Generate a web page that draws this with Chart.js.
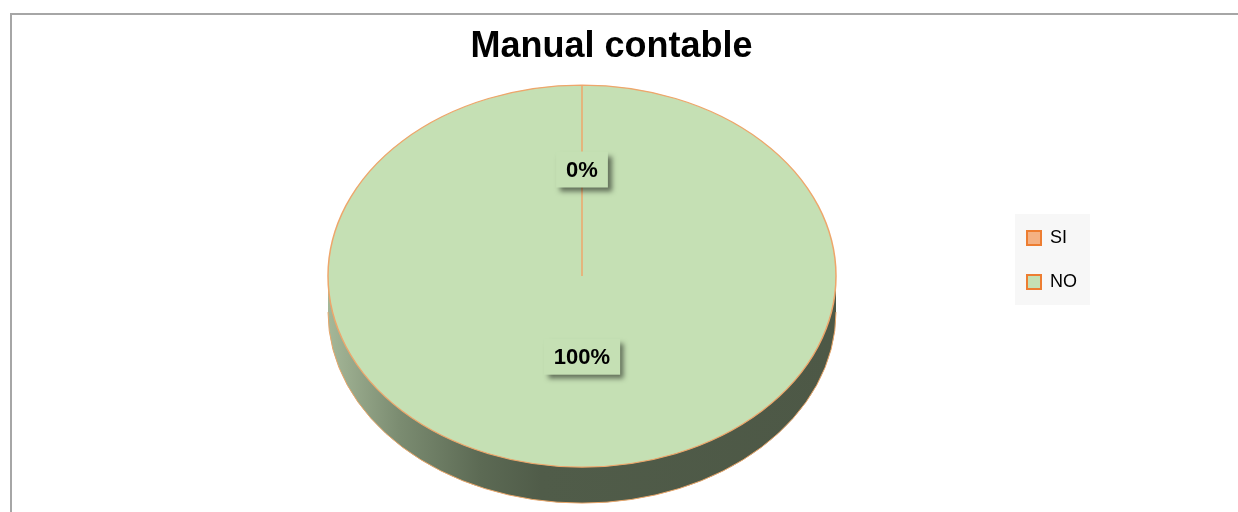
<!DOCTYPE html>
<html lang="es">
<head>
<meta charset="utf-8">
<title>Manual contable</title>
<script src="https://cdn.jsdelivr.net/npm/chart.js"></script>
<style>
  html, body { margin: 0; padding: 0; background: #fff; }
  #wrap { width: 1238px; height: 512px; position: relative; }
</style>
</head>
<body>
<div id="wrap"><canvas id="pieChart"></canvas></div>
<script>
const categories = ['SI', 'NO'];
const answers = [0, 100];
const fillColors = ['#F4B183', '#C5E0B4'];

const FONT = "'Liberation Sans', Arial, sans-serif";

// tilt of the disc: vertical squash, wall height, how far the top face sits below the centre
const tilt = { squash: 0.752, depth: 36, drop: 16 };

// outer frame + grey panel behind the legend; title centred a bit left of the full width
const frame = {
  id: 'frame',
  afterLayout(chart) {
    const t = chart.titleBlock;
    t.right -= 27;
    t.width = t.right - t.left;
  },
  beforeDraw(chart) {
    const ctx = chart.ctx;
    ctx.save();
    ctx.strokeStyle = '#a6a6a6';
    ctx.lineWidth = 2;
    ctx.strokeRect(11, 14, chart.width + 20, chart.height + 20);
    const boxes = chart.legend.legendHitBoxes;
    if (boxes && boxes.length) {
      const left = Math.min(...boxes.map(b => b.left)) - 12;
      const top = Math.min(...boxes.map(b => b.top)) - 15;
      const right = Math.max(...boxes.map(b => b.left + b.width)) + 13;
      const bottom = Math.max(...boxes.map(b => b.top + b.height)) + 14;
      ctx.fillStyle = '#f7f7f7';
      ctx.fillRect(left, top, right - left, bottom - top);
    }
    ctx.restore();
  }
};

// squashes the pie into a tilted disc and paints its side wall
const disc = {
  id: 'disc',
  beforeDatasetsDraw(chart) {
    const arc = chart.getDatasetMeta(0).data[0];
    const { x, outerRadius: r } = arc;
    const cy = arc.y + tilt.drop;
    const ry = r * tilt.squash;
    const ctx = chart.ctx;
    ctx.save();
    const wall = ctx.createLinearGradient(x - r, 0, x + r, 0);
    wall.addColorStop(0, '#a5b798');
    wall.addColorStop(0.14, '#7b8c71');
    wall.addColorStop(0.30, '#5c6a54');
    wall.addColorStop(0.42, '#505c49');
    wall.addColorStop(1, '#4d5846');
    ctx.beginPath();
    ctx.moveTo(x - r, cy);
    ctx.ellipse(x, cy + tilt.depth, r, ry, 0, Math.PI, 0, true);
    ctx.lineTo(x + r, cy);
    ctx.closePath();
    ctx.fillStyle = wall;
    ctx.fill();
    ctx.beginPath();
    ctx.ellipse(x, cy + tilt.depth, r, ry, 0, Math.PI, 0, true);
    ctx.strokeStyle = '#e9a66a';
    ctx.lineWidth = 1;
    ctx.stroke();
    ctx.restore();
  },
  beforeDatasetDraw(chart) {
    const arc = chart.getDatasetMeta(0).data[0];
    const ctx = chart.ctx;
    ctx.save();
    ctx.translate(arc.x, arc.y + tilt.drop);
    ctx.scale(1, tilt.squash);
    ctx.translate(-arc.x, -arc.y);
  },
  afterDatasetDraw(chart) {
    chart.ctx.restore();
  }
};

// percentage tags with a drop shadow
const valueTags = {
  id: 'valueTags',
  afterDatasetsDraw(chart) {
    const ctx = chart.ctx;
    const arcs = chart.getDatasetMeta(0).data;
    const total = answers.reduce((a, b) => a + b, 0);
    ctx.save();
    ctx.font = `bold 22px ${FONT}`;
    ctx.textAlign = 'center';
    ctx.textBaseline = 'middle';
    arcs.forEach((arc, i) => {
      const mid = (arc.startAngle + arc.endAngle) / 2;
      const d = arc.outerRadius * 0.49;
      const px = arc.x + Math.cos(mid) * d;
      const py = arc.y + 3 + Math.sin(mid) * d * tilt.squash;
      const text = Math.round(answers[i] / total * 100) + '%';
      const w = ctx.measureText(text).width + 20;
      const h = 36;
      ctx.shadowColor = 'rgba(0,0,0,0.5)';
      ctx.shadowBlur = 5;
      ctx.shadowOffsetX = 4;
      ctx.shadowOffsetY = 4;
      ctx.fillStyle = '#C5E0B4';
      ctx.fillRect(px - w / 2, py - h / 2, w, h);
      ctx.shadowColor = 'transparent';
      ctx.fillStyle = '#000';
      ctx.fillText(text, px, py + 1);
    });
    ctx.restore();
  }
};

const ctx = document.getElementById('pieChart');
const pieChart = new Chart(ctx, {
  type: 'pie',
  data: {
    labels: categories,
    datasets: [{
      data: answers,
      backgroundColor: fillColors,
      borderColor: '#eea66b',
      borderWidth: 1.5,
      radius: 254
    }]
  },
  options: {
    responsive: true,
    maintainAspectRatio: false,
    animation: false,
    events: [],
    layout: { padding: { left: 163, right: 151, top: 0, bottom: 60 } },
    plugins: {
      title: {
        display: true,
        text: 'Manual contable',
        color: '#000',
        font: { family: FONT, size: 36, weight: 'bold' },
        padding: { top: 25, bottom: 0 }
      },
      legend: {
        position: 'right',
        fullSize: false,
        labels: {
          boxWidth: 14,
          boxHeight: 14,
          padding: 26,
          color: '#000',
          font: { family: FONT, size: 18 },
          generateLabels: () => categories.map((c, i) => ({
            text: c,
            fillStyle: fillColors[i],
            strokeStyle: '#ED7D31',
            lineWidth: 2,
            hidden: false,
            index: i
          }))
        }
      },
      tooltip: { enabled: false }
    }
  },
  plugins: [frame, disc, valueTags]
});
</script>
</body>
</html>
